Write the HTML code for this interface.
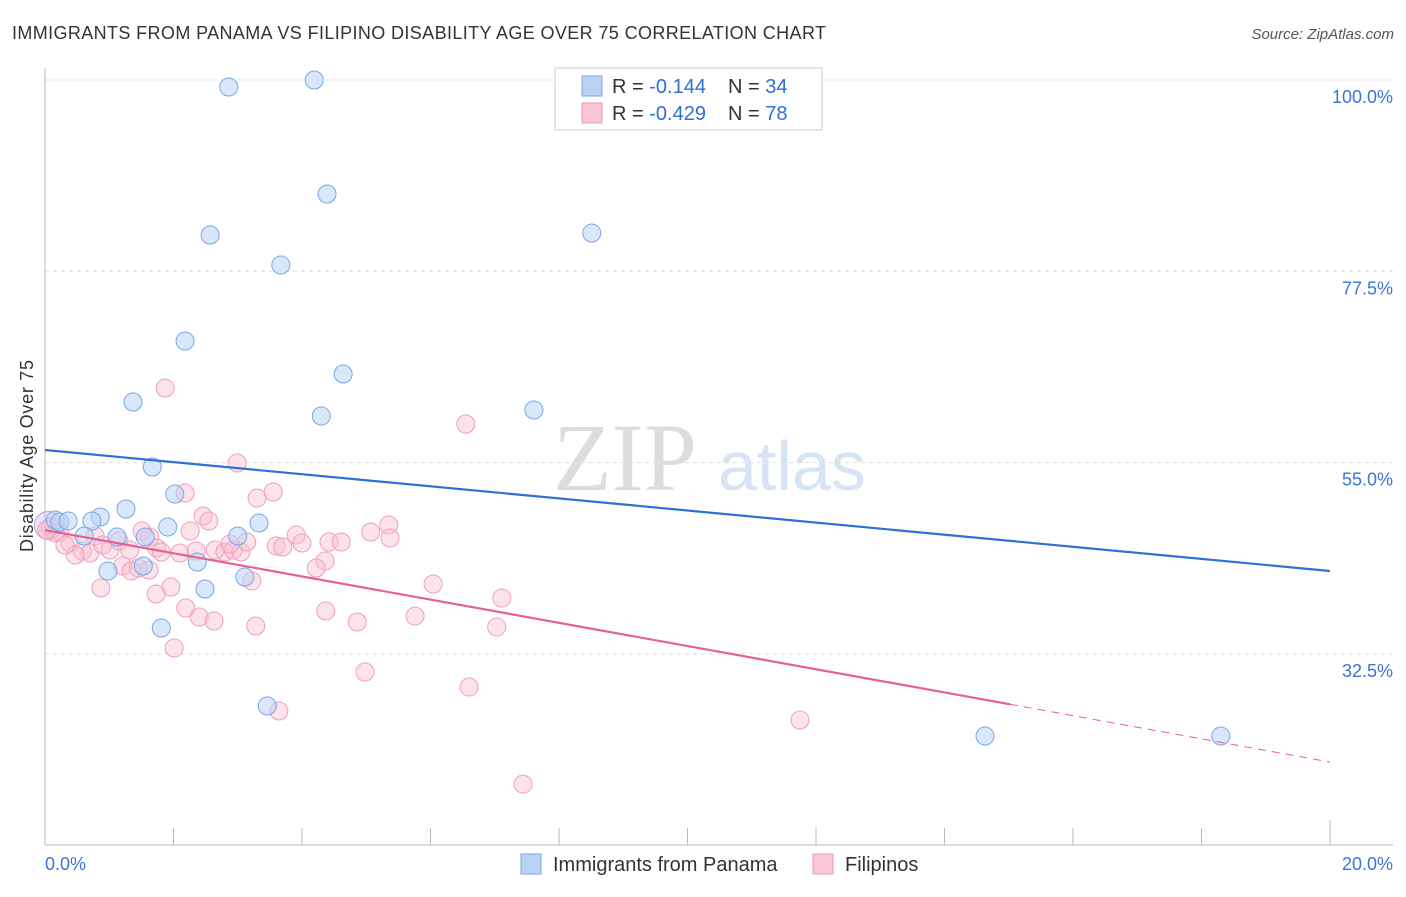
<!DOCTYPE html>
<html><head><meta charset="utf-8"><style>
body{margin:0;background:#fff;font-family:"Liberation Sans",sans-serif}
svg text{font-family:"Liberation Sans",sans-serif}
</style></head><body>
<svg id="c" width="1406" height="892" xmlns="http://www.w3.org/2000/svg">
<text x="12" y="39" font-size="18" fill="#333" textLength="814">IMMIGRANTS FROM PANAMA VS FILIPINO DISABILITY AGE OVER 75 CORRELATION CHART</text>
<text x="1394" y="39" font-size="15" fill="#555" font-style="italic" text-anchor="end">Source: ZipAtlas.com</text>
<text x="0" y="0" transform="translate(33,456) rotate(-90)" font-size="18" fill="#333" text-anchor="middle" textLength="192">Disability Age Over 75</text>
<text x="553" y="490" font-size="96" fill="#ddd" style="font-family:'Liberation Serif',serif">ZIP</text>
<text x="718" y="490" font-size="70" fill="#d6e4f5">atlas</text>
<g id="grid"></g><g id="pts"></g><g id="lines"></g>
<g>
<rect x="555" y="68" width="267" height="62" fill="#fff" stroke="#ccc"/>
<rect x="582" y="76" width="20" height="20" fill="#b9d3f5" stroke="#7aa6e6"/>
<rect x="582" y="103" width="20" height="20" fill="#f9c6d6" stroke="#ee9ab5"/>
<text x="612" y="93" font-size="20" fill="#333">R = <tspan fill="#2f6fd6">-0.144</tspan><tspan dx="22">N = </tspan><tspan fill="#2f6fd6">34</tspan></text>
<text x="612" y="120" font-size="20" fill="#333">R = <tspan fill="#2f6fd6">-0.429</tspan><tspan dx="22">N = </tspan><tspan fill="#2f6fd6">78</tspan></text>
</g>
<g>
<rect x="521" y="854" width="20" height="20" fill="#b9d3f5" stroke="#7aa6e6"/>
<text x="553" y="871" font-size="20" fill="#333">Immigrants from Panama</text>
<rect x="813" y="854" width="20" height="20" fill="#f9c6d6" stroke="#ee9ab5"/>
<text x="845" y="871" font-size="20" fill="#333">Filipinos</text>
</g>
</svg>
<script>
const yTicks=[100,77.5,55,32.5];
const yTickLabels=["100.0%","77.5%","55.0%","32.5%"];
const xTickLabels=["0.0%","20.0%"];
const blueX=[2.86,4.19,4.39,2.57,8.51,3.67,2.18,4.64,1.37,4.30,7.61,1.67,2.02,1.26,0.86,0.73,0.16,0.23,0.36,1.91,3.00,3.33,1.12,0.61,1.56,2.37,0.98,1.53,3.11,2.49,1.81,3.46,14.63,18.30];
const blueY=[99.18,100,86.59,81.77,82.00,78.24,69.30,65.42,62.13,60.48,61.19,54.48,51.30,49.54,48.60,48.13,48.25,48.01,48.13,47.42,46.37,47.89,46.25,46.37,46.25,43.31,42.25,42.84,41.54,40.13,35.54,26.37,22.84,22.84];
const pinkX=[1.87,6.55,2.99,2.18,3.55,3.30,2.46,2.55,5.35,5.07,5.37,3.91,3.60,4.42,4.61,4.00,2.26,1.51,1.63,1.15,0.78,0.23,0.08,0.16,0.39,0.58,0.70,0.47,0.90,1.01,1.32,1.74,1.81,2.10,2.35,2.65,2.80,2.93,3.05,3.14,2.88,3.70,1.21,1.45,1.62,1.34,4.36,4.22,3.22,1.96,1.73,0.87,6.04,7.11,2.19,2.40,2.63,3.28,4.37,4.86,5.76,7.03,2.01,4.98,6.60,3.64,11.75,7.44,0.03,0.31];
const pinkY=[63.77,59.54,54.95,51.42,51.54,50.84,48.72,48.13,47.66,46.84,46.13,46.48,45.19,45.66,45.66,45.54,46.95,46.95,46.25,45.78,46.37,46.84,47.42,46.72,45.54,44.60,44.37,44.13,45.31,44.72,44.72,44.95,44.48,44.37,44.60,44.72,44.48,44.72,44.48,45.66,45.42,45.07,42.84,42.60,42.37,42.25,43.42,42.60,41.07,40.37,39.54,40.25,40.72,39.07,37.90,36.84,36.37,35.78,37.54,36.25,36.95,35.66,33.19,30.37,28.60,25.78,24.72,17.19,47.07,45.31];
const blueTrend=[56.48,42.25];
const pinkTrend=[47.07,19.78];
const pinkSolidEnd=15.02;
const NS="http://www.w3.org/2000/svg";
const X=v=>45+v/20*1285, Y=v=>80+(100-v)/22.5*191.3;
function mk(t,a,p){const e=document.createElementNS(NS,t);for(const k in a)e.setAttribute(k,a[k]);p.appendChild(e);return e;}
const g=document.getElementById('grid');
yTicks.forEach((v,i)=>{
 const l=mk('line',{x1:45,x2:1393,y1:Y(v),y2:Y(v),stroke:'#ddd','stroke-dasharray':'4,4'},g);
 
 
 const t=mk('text',{x:1393,y:Y(v)+23,'font-size':18,fill:'#3a74d6','text-anchor':'end'},g);t.textContent=yTickLabels[i];
 
 
});
mk('line',{x1:45,x2:45,y1:68,y2:845,stroke:'#bbb'},g);
mk('line',{x1:45,x2:1393,y1:845,y2:845,stroke:'#bbb'},g);
for(let i=0;i<=10;i++){const x=X(i*2);mk('line',{x1:x,x2:x,y1:i==10?820:828,y2:845,stroke:'#bbb'},g);}
[[0,'start'],[20,'end']].forEach((d,i)=>{const t=mk('text',{x:i?1393:45,y:870,'font-size':18,fill:'#3a74d6','text-anchor':d[1]},g);t.textContent=xTickLabels[i];
 
 });
const p=document.getElementById('pts');
const big=mk('circle',{cx:X(0.05),cy:Y(47.6),r:14,fill:'rgba(200,180,220,0.35)',stroke:'#b9a6d6'},p);


pinkX.forEach((x,i)=>{const c=mk('circle',{cx:X(x),cy:Y(pinkY[i]),r:9,fill:'rgba(249,190,210,0.45)',stroke:'#eea0ba'},p);
 
 });
blueX.forEach((x,i)=>{const c=mk('circle',{cx:X(x),cy:Y(blueY[i]),r:9,fill:'rgba(185,211,245,0.55)',stroke:'#7aa6e6'},p);
 
 });
const L=document.getElementById('lines');
const bl=mk('line',{x1:X(0),y1:Y(blueTrend[0]),x2:X(20),y2:Y(blueTrend[1]),stroke:'#2f6fd6','stroke-width':2.2},L);


const py=x=>pinkTrend[0]+(pinkTrend[1]-pinkTrend[0])*x/20;
const pl=mk('line',{x1:X(0),y1:Y(py(0)),x2:X(pinkSolidEnd),y2:Y(py(pinkSolidEnd)),stroke:'#e8608f','stroke-width':2.2},L);


const pd=mk('line',{x1:X(pinkSolidEnd),y1:Y(py(pinkSolidEnd)),x2:X(20),y2:Y(py(20)),stroke:'#e8608f','stroke-width':1,'stroke-dasharray':'8,6'},L);


</script>
</body></html>
